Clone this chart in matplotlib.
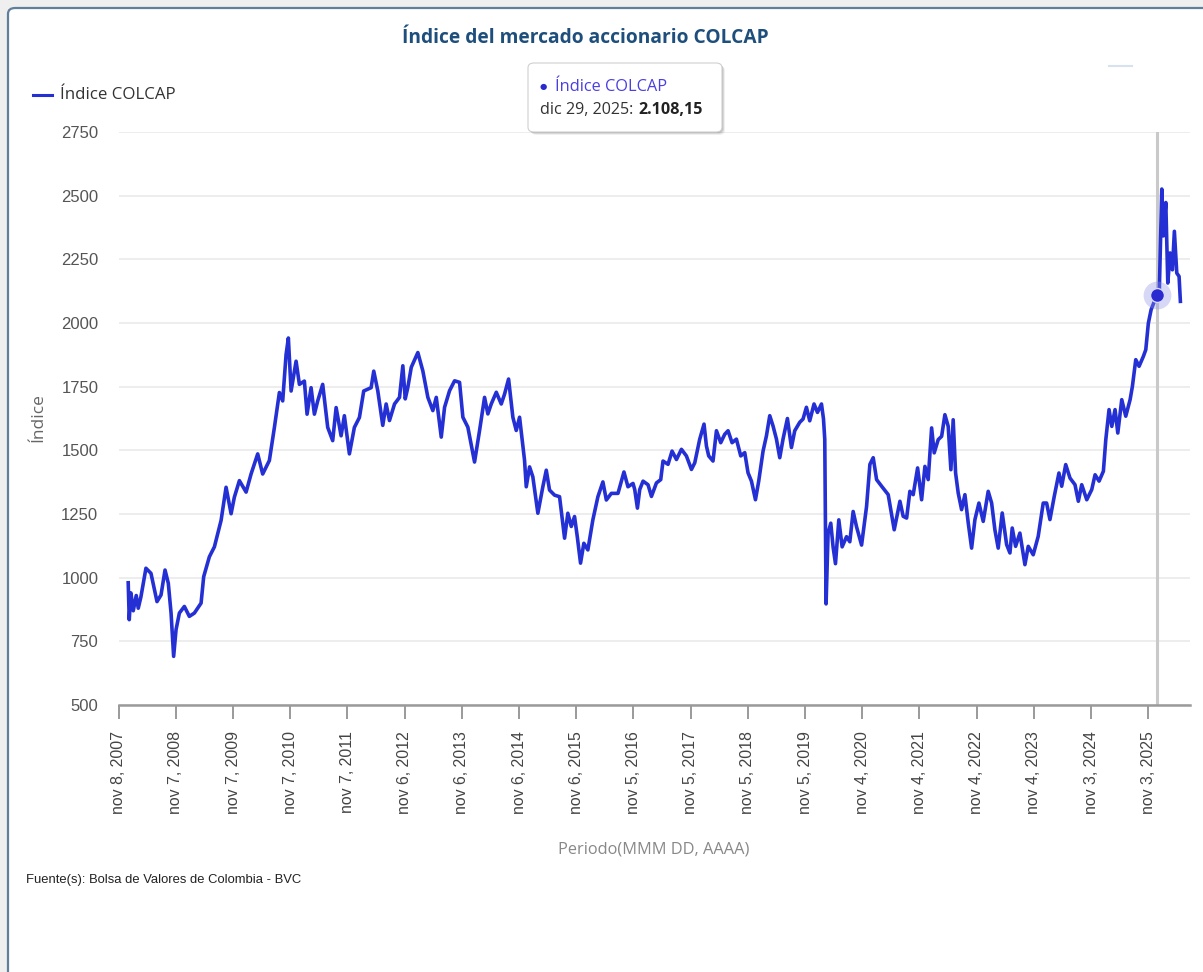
import matplotlib
matplotlib.use("Agg")
import matplotlib.pyplot as plt
from matplotlib.patches import FancyBboxPatch
from matplotlib.lines import Line2D
from datetime import datetime, timedelta

# COLCAP index (decimal year, index value)
t_year = [
    2008.019, 2008.037, 2008.066, 2008.107, 2008.159, 2008.194, 2008.241, 2008.328, 2008.416, 2008.521,
    2008.591, 2008.661, 2008.718, 2008.766, 2008.811, 2008.853, 2008.911, 2008.998, 2009.085, 2009.173,
    2009.290, 2009.336, 2009.435, 2009.523, 2009.640, 2009.727, 2009.815, 2009.872, 2009.960, 2010.077,
    2010.164, 2010.280, 2010.367, 2010.484, 2010.572, 2010.659, 2010.717, 2010.776, 2010.816, 2010.864,
    2010.951, 2011.009, 2011.096, 2011.143, 2011.213, 2011.271, 2011.329, 2011.416, 2011.504, 2011.591,
    2011.651, 2011.738, 2011.795, 2011.883, 2011.970, 2012.058, 2012.133, 2012.262, 2012.308, 2012.378,
    2012.465, 2012.524, 2012.582, 2012.670, 2012.757, 2012.815, 2012.857, 2012.902, 2012.962, 2013.077,
    2013.164, 2013.252, 2013.339, 2013.399, 2013.486, 2013.544, 2013.631, 2013.719, 2013.806, 2013.864,
    2013.951, 2014.068, 2014.156, 2014.243, 2014.301, 2014.360, 2014.448, 2014.535, 2014.593, 2014.663,
    2014.738, 2014.797, 2014.855, 2014.942, 2014.972, 2015.030, 2015.087, 2015.175, 2015.262, 2015.322,
    2015.379, 2015.467, 2015.554, 2015.642, 2015.699, 2015.759, 2015.816, 2015.864, 2015.921, 2015.979,
    2016.049, 2016.136, 2016.224, 2016.311, 2016.371, 2016.458, 2016.574, 2016.678, 2016.748, 2016.836,
    2016.866, 2016.913, 2016.953, 2017.011, 2017.098, 2017.158, 2017.245, 2017.320, 2017.360, 2017.448,
    2017.518, 2017.595, 2017.682, 2017.769, 2017.857, 2017.915, 2018.002, 2018.077, 2018.119, 2018.159,
    2018.234, 2018.294, 2018.369, 2018.439, 2018.497, 2018.567, 2018.643, 2018.719, 2018.789, 2018.846,
    2018.906, 2018.976, 2019.033, 2019.109, 2019.168, 2019.226, 2019.283, 2019.343, 2019.401, 2019.458,
    2019.535, 2019.605, 2019.663, 2019.750, 2019.808, 2019.867, 2019.925, 2020.000, 2020.060, 2020.130,
    2020.165, 2020.187, 2020.210, 2020.245, 2020.292, 2020.332, 2020.374, 2020.432, 2020.490, 2020.567,
    2020.624, 2020.682, 2020.741, 2020.829, 2020.916, 2020.974, 2021.032, 2021.091, 2021.179, 2021.294,
    2021.399, 2021.499, 2021.556, 2021.616, 2021.673, 2021.731, 2021.808, 2021.878, 2021.936, 2021.993,
    2022.053, 2022.098, 2022.168, 2022.228, 2022.285, 2022.343, 2022.390, 2022.430, 2022.472, 2022.518,
    2022.577, 2022.635, 2022.693, 2022.752, 2022.810, 2022.880, 2022.955, 2023.042, 2023.102, 2023.159,
    2023.217, 2023.287, 2023.364, 2023.422, 2023.462, 2023.521, 2023.596, 2023.684, 2023.742, 2023.829,
    2023.916, 2024.004, 2024.063, 2024.121, 2024.196, 2024.278, 2024.326, 2024.396, 2024.471, 2024.558,
    2024.616, 2024.675, 2024.763, 2024.850, 2024.908, 2024.978, 2025.053, 2025.095, 2025.152, 2025.200,
    2025.257, 2025.305, 2025.374, 2025.444, 2025.520, 2025.560, 2025.619, 2025.677, 2025.752, 2025.794,
    2025.839, 2025.887, 2025.944, 2025.989, 2026.027, 2026.074, 2026.102, 2026.144, 2026.179, 2026.219,
    2026.259, 2026.294, 2026.336, 2026.376, 2026.399,
]
colcap = [
    980, 835, 940, 870, 930, 880, 925, 1037, 1017, 906,
    932, 1030, 978, 861, 691, 796, 861, 887, 848, 861,
    900, 1004, 1082, 1121, 1225, 1355, 1251, 1316, 1381, 1336,
    1407, 1486, 1407, 1460, 1590, 1727, 1694, 1876, 1941, 1733,
    1850, 1759, 1772, 1642, 1746, 1642, 1694, 1759, 1590, 1538,
    1668, 1557, 1636, 1486, 1590, 1629, 1733, 1746, 1811, 1734,
    1598, 1682, 1617, 1682, 1708, 1832, 1702, 1747, 1826, 1884,
    1812, 1708, 1656, 1708, 1552, 1669, 1734, 1773, 1767, 1630,
    1591, 1454, 1578, 1708, 1643, 1682, 1728, 1682, 1721, 1780,
    1630, 1578, 1630, 1461, 1357, 1435, 1396, 1253, 1357, 1422,
    1344, 1324, 1318, 1155, 1253, 1201, 1240, 1161, 1057, 1135,
    1109, 1227, 1318, 1376, 1305, 1331, 1331, 1415, 1357, 1370,
    1346, 1273, 1346, 1379, 1365, 1319, 1372, 1385, 1458, 1445,
    1497, 1464, 1504, 1478, 1425, 1451, 1544, 1603, 1517, 1478,
    1458, 1577, 1530, 1563, 1577, 1530, 1544, 1478, 1491, 1412,
    1379, 1306, 1379, 1497, 1557, 1636, 1596, 1544, 1471, 1544,
    1625, 1511, 1577, 1610, 1623, 1669, 1616, 1682, 1649, 1682,
    1623, 1544, 897, 1174, 1214, 1121, 1055, 1227, 1121, 1161,
    1141, 1260, 1200, 1128, 1280, 1445, 1471, 1385, 1359, 1326,
    1188, 1300, 1241, 1234, 1339, 1326, 1431, 1306, 1437, 1385,
    1588, 1490, 1542, 1555, 1640, 1594, 1424, 1620, 1411, 1332,
    1267, 1326, 1215, 1116, 1228, 1293, 1221, 1339, 1293, 1188,
    1116, 1254, 1130, 1097, 1195, 1123, 1175, 1051, 1123, 1090,
    1162, 1293, 1293, 1228, 1319, 1411, 1359, 1444, 1391, 1365,
    1300, 1365, 1306, 1346, 1404, 1379, 1418, 1542, 1660, 1594,
    1660, 1568, 1699, 1634, 1699, 1751, 1856, 1830, 1869, 1895,
    1999, 2052, 2085, 2108.15, 2092, 2526, 2342, 2473, 2157, 2275,
    2209, 2360, 2196, 2183, 2085,
]
y_ticks = [500, 750, 1000, 1250, 1500, 1750, 2000, 2250, 2500, 2750]
first_tick = datetime(2007, 11, 8)
n_ticks = 19
hover_date = datetime(2025, 12, 29)
hover_value = 2108.15

W, H = 1203, 972
LINE = '#2430d4'


def dec_to_date(y):
    yr = int(y)
    start = datetime(yr, 1, 1)
    days = (datetime(yr + 1, 1, 1) - start).days
    return start + timedelta(days=(y - yr) * days)


def fx(px):
    return px / W


def fy(py):
    return 1 - py / H


dates = [dec_to_date(y) for y in t_year]
tick_dates = [first_tick + timedelta(days=365 * k) for k in range(n_ticks)]
tick_labels = ['nov %d, %d' % (d.day, d.year) for d in tick_dates]

fig = plt.figure(figsize=(W / 100, H / 100), dpi=100, facecolor='#efefef')

# card background with border
card = FancyBboxPatch((fx(8), -0.05), 1.2, 1 - 8 / H + 0.05,
                      boxstyle='round,pad=0,rounding_size=0.006',
                      transform=fig.transFigure, facecolor='white',
                      edgecolor='#5f7f9b', lw=1.6, zorder=-5)
fig.add_artist(card)

ax = fig.add_axes([fx(118.5), fy(705), fx(1190) - fx(118.5), fy(132) - fy(705)])
ax.set_facecolor('none')
ax.plot(dates, colcap, color=LINE, lw=2.6, solid_joinstyle='round', zorder=3)

ax.axvline(hover_date, color='#c9c9c9', lw=2.2, zorder=2)
ax.plot([hover_date], [hover_value], 'o', ms=20, color='#8f8fe8', alpha=0.35, mew=0, zorder=4)
ax.plot([hover_date], [hover_value], 'o', ms=10, color='#2a2ad0', mec='#d8d8f8', mew=1, zorder=5)

ax.set_ylim(500, 2750)
ax.set_xlim(datetime(2007, 11, 7), datetime(2026, 7, 27))
ax.set_yticks(y_ticks)
ax.set_xticks(tick_dates)
ax.set_xticklabels(tick_labels, rotation=90, fontsize=11.4, color='#444', family='Liberation Sans')
for lab in ax.get_yticklabels():
    lab.set_family('Liberation Sans')
ax.tick_params(axis='y', length=0, pad=14.5, labelsize=12, labelcolor='#555')
ax.tick_params(axis='x', length=10, width=1.4, color='#9a9a9a', pad=9)
ax.grid(axis='y', color='#ececec', lw=1.3)
ax.set_axisbelow(True)
for s in ['top', 'right', 'left']:
    ax.spines[s].set_visible(False)
ax.spines['bottom'].set_color('#9a9a9a')
ax.spines['bottom'].set_linewidth(1.8)

# title, legend, labels
fig.text(fx(585), fy(38), 'Índice del mercado accionario COLCAP', ha='center', va='center',
         fontsize=13.8, fontweight='bold', color='#1d4e7c', family='Open Sans')
fig.add_artist(Line2D([fx(33), fx(52)], [fy(95), fy(95)], color=LINE, lw=2.2))
fig.text(fx(60), fy(95), 'Índice COLCAP', ha='left', va='center', fontsize=12.2,
         color='#333', family='Open Sans')
fig.text(fx(38), fy(418), 'Índice', rotation=90, ha='center', va='center', fontsize=12.5,
         color='#666', family='Open Sans')
fig.text(fx(654), fy(850), 'Periodo(MMM DD, AAAA)', ha='center', va='center', fontsize=11.8,
         color='#888', family='Open Sans')
fig.text(fx(26), fy(880), 'Fuente(s): Bolsa de Valores de Colombia - BVC', ha='left', va='center',
         fontsize=9.4, color='#222', family='Liberation Sans')

# faint leftover controls top right
fig.add_artist(Line2D([fx(1109), fx(1132)], [fy(66), fy(66)], color='#d6e2f0', lw=1.5))

# tooltip
for off, a in [(3, 0.06), (2, 0.1), (1, 0.12)]:
    sh = FancyBboxPatch((fx(528 + off), fy(132 + off)), fx(194), 69 / H,
                        boxstyle='round,pad=0,rounding_size=0.005', transform=fig.transFigure,
                        facecolor='#000000', edgecolor='none', alpha=a, zorder=10)
    fig.add_artist(sh)
tip = FancyBboxPatch((fx(528), fy(132)), fx(194), 69 / H,
                     boxstyle='round,pad=0,rounding_size=0.005', transform=fig.transFigure,
                     facecolor='white', edgecolor='#d0d0d0', lw=0.8, zorder=11)
fig.add_artist(tip)
fig.text(fx(540), fy(87), '●', ha='left', va='center', fontsize=6, color='#2a2ad0', zorder=12)
fig.text(fx(555), fy(87), 'Índice COLCAP', ha='left', va='center', fontsize=11.8,
         color='#4a3fe0', family='Open Sans', zorder=12)
t1 = fig.text(fx(540), fy(110), 'dic 29, 2025:', ha='left', va='center', fontsize=11.6,
              color='#333', family='Open Sans', zorder=12)
fig.canvas.draw()
bb = t1.get_window_extent()
fig.text(fx(bb.x1 + 5), fy(110), '2.108,15', ha='left', va='center', fontsize=11.6,
         fontweight='bold', color='#222', family='Open Sans', zorder=12)

fig.savefig('out.png', dpi=100, facecolor=fig.get_facecolor())
